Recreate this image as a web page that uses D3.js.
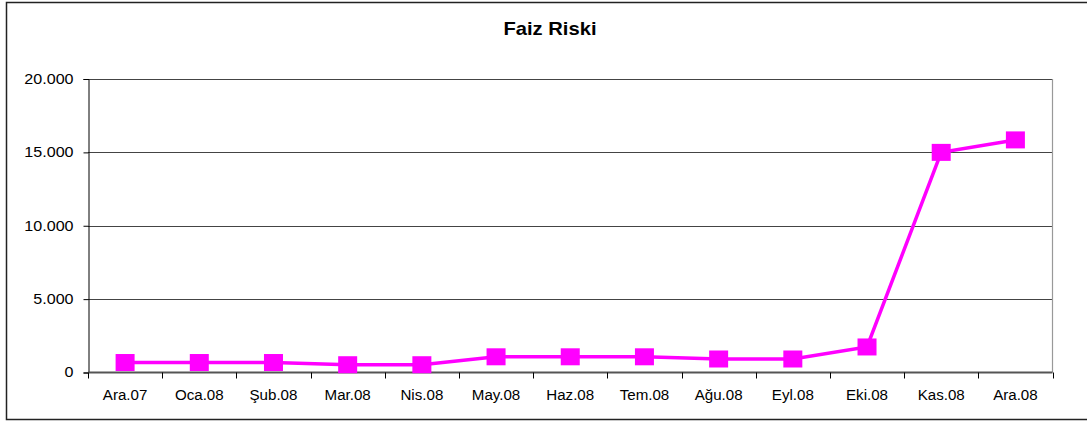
<!DOCTYPE html>
<html><head><meta charset="utf-8">
<script src="https://cdn.jsdelivr.net/npm/d3@7"></script>
<style>
html,body{margin:0;padding:0;background:#fff;}
svg{display:block;font-family:"Liberation Sans",Arial,sans-serif;}
</style></head>
<body>
<svg id="c" width="1087" height="421"></svg>
<script>
const categories = ["Ara.07","Oca.08","Şub.08","Mar.08","Nis.08","May.08","Haz.08","Tem.08","Ağu.08","Eyl.08","Eki.08","Kas.08","Ara.08"];
const values = [680, 680, 680, 530, 530, 1070, 1070, 1070, 920, 920, 1740, 15000, 15850];
const yTicks = [0, 5000, 10000, 15000, 20000];
const title = "Faiz Riski";

(function(){
const svg = d3.select("#c");
// outer border
svg.append("rect").attr("x",6.5).attr("y",2.5).attr("width",1100).attr("height",417)
  .attr("fill","none").attr("stroke","#222").attr("stroke-width",1.5);

const pLeft = 88, pRight = 1052.5, pTop = 79, pBottom = 372.5;
const x = d3.scaleBand().domain(categories).range([pLeft, pRight]).padding(0);
const y = d3.scaleLinear().domain([0, 20000]).range([pBottom, pTop]);

// title
svg.append("text").attr("x",550).attr("y",35).attr("text-anchor","middle")
  .attr("font-weight","bold").attr("font-size",18).attr("fill","#000")
  .attr("transform","translate(550,0) scale(1.12,1) translate(-550,0)")
  .text(title);

// grid lines
svg.append("g").selectAll("line").data(yTicks.filter(d=>d>0)).join("line")
  .attr("x1",pLeft).attr("x2",pRight).attr("y1",d=>Math.round(y(d))+0.5).attr("y2",d=>Math.round(y(d))+0.5)
  .attr("stroke","#444").attr("stroke-width",1);

// right plot border
svg.append("line").attr("x1",pRight).attr("x2",pRight).attr("y1",pTop).attr("y2",pBottom)
  .attr("stroke","#999").attr("stroke-width",1.2);

const fmt = d => d3.format(",")(d).replace(/,/g,".");

// y axis
const yAxis = d3.axisLeft(y).tickValues(yTicks).tickFormat(fmt).tickSize(5).tickPadding(8);
const gy = svg.append("g").attr("transform",`translate(${pLeft+0.5},0)`).call(yAxis);
gy.select(".domain").attr("stroke","#000");
gy.selectAll(".tick line").attr("stroke","#000");
gy.selectAll(".tick text").attr("font-size",14).attr("fill","#000")
  .attr("font-family","Liberation Sans, Arial, sans-serif")
  .attr("transform","scale(1.15,1)");

// x axis (ticks at band boundaries)
const xb = d3.scaleLinear().domain([0, categories.length]).range([pLeft, pRight]);
const gx = svg.append("g").attr("transform",`translate(0,${pBottom})`);
gx.append("line").attr("x1",pLeft).attr("x2",pRight).attr("y1",0).attr("y2",0)
  .attr("stroke","#555").attr("stroke-width",2);
gx.selectAll("line.tk").data(d3.range(categories.length+1)).join("line").attr("class","tk")
  .attr("x1",d=>Math.round(xb(d))+0.5).attr("x2",d=>Math.round(xb(d))+0.5).attr("y1",0).attr("y2",6)
  .attr("stroke","#000");
gx.selectAll("text").data(categories).join("text")
  .attr("transform",d=>`translate(${x(d)+x.bandwidth()/2},27) scale(1.08,1)`)
  .attr("text-anchor","middle").attr("font-size",14).attr("fill","#000").text(d=>d);

// line
const data = categories.map((c,i)=>({c, v: values[i]}));
const line = d3.line().x(d=>x(d.c)+x.bandwidth()/2).y(d=>y(d.v));
svg.append("path").datum(data).attr("d",line).attr("fill","none")
  .attr("stroke","#FF00FF").attr("stroke-width",3.5);

// markers
svg.append("g").selectAll("rect").data(data).join("rect")
  .attr("x",d=>x(d.c)+x.bandwidth()/2-9.5).attr("y",d=>y(d.v)-8.5)
  .attr("width",19).attr("height",17).attr("fill","#FF00FF");
})();
</script>
</body></html>
